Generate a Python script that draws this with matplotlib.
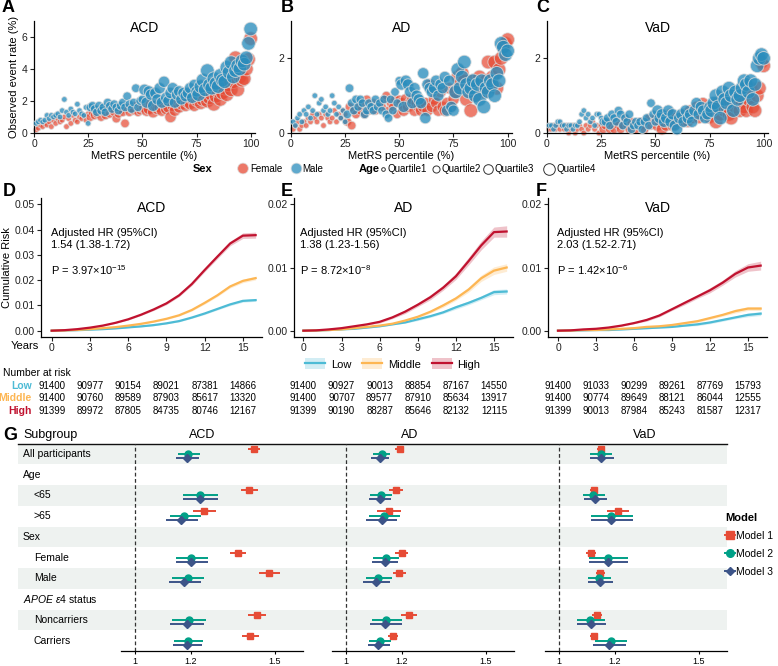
import numpy as np
import matplotlib.pyplot as plt
import matplotlib.transforms as mtransforms
from matplotlib.lines import Line2D
from matplotlib.patches import Patch

plt.rcParams['font.family'] = ['Liberation Sans', 'DejaVu Sans']
plt.rcParams['mathtext.fontset'] = 'custom'
plt.rcParams['mathtext.rm'] = 'Liberation Sans'
plt.rcParams['mathtext.it'] = 'Liberation Sans:italic'
plt.rcParams['mathtext.bf'] = 'Liberation Sans:bold'
plt.rcParams['axes.linewidth'] = 0.9

# ---------------- data: observed event rate by MetRS percentile (1..100)
percentile = list(range(1, 101))

acd_female = [0.2, 0.3, 0.5, 0.4, 0.6, 0.5, 0.7, 0.4, 0.8, 0.6,
              0.9, 0.7, 0.8, 1.0, 0.4, 0.9, 0.6, 1.1, 0.8, 0.7,
              1.0, 0.9, 1.1, 0.8, 1.2, 1.0, 1.3, 1.1, 1.2, 1.4,
              1.0, 1.3, 1.1, 1.5, 1.2, 1.4, 1.3, 0.9, 1.2, 1.4,
              1.3, 0.6, 1.6, 1.3, 1.5, 1.4, 1.7, 1.3, 1.4, 1.5,
              1.6, 1.4, 1.5, 1.8, 1.3, 1.7, 1.5, 1.6, 1.4, 1.8,
              1.5, 1.6, 1.0, 1.7, 1.4, 1.9, 1.6, 1.8, 2.0, 1.7,
              1.9, 1.8, 2.1, 1.7, 2.0, 2.2, 1.9, 2.1, 2.3, 2.0,
              2.2, 2.4, 1.8, 2.3, 2.6, 2.1, 2.5, 2.8, 2.4, 3.0,
              2.7, 3.2, 4.7, 2.7, 3.5, 3.3, 3.4, 4.0, 4.6, 5.9]
acd_male = [0.6, 0.7, 0.8, 0.7, 0.8, 1.1, 0.9, 1.1, 1.0, 1.1,
            1.2, 1.0, 1.4, 2.1, 1.3, 1.1, 1.5, 1.3, 1.2, 1.8,
            1.4, 1.2, 1.1, 1.6, 0.6, 1.6, 1.7, 1.5, 1.3, 1.7,
            1.4, 1.6, 1.3, 1.9, 1.7, 1.5, 1.8, 1.6, 1.4, 1.7,
            1.9, 1.6, 2.3, 1.8, 1.5, 1.9, 2.8, 1.6, 2.0, 2.1,
            2.7, 1.9, 2.6, 2.4, 1.7, 2.5, 2.1, 2.8, 1.9, 3.2,
            2.2, 2.0, 2.5, 2.8, 1.9, 2.4, 2.6, 2.1, 2.5, 2.3,
            2.5, 2.8, 2.2, 3.0, 2.6, 2.4, 2.9, 3.3, 2.7, 3.9,
            3.0, 2.8, 3.4, 3.1, 2.9, 3.6, 3.3, 3.2, 4.1, 3.8,
            4.4, 3.5, 3.9, 4.2, 4.0, 4.5, 4.3, 4.7, 5.6, 6.5]
ad_female = [0.1, 0.2, 0.3, 0.1, 0.2, 0.3, 0.2, 0.4, 0.3, 0.5,
             0.4, 0.3, 0.5, 0.4, 0.2, 0.5, 0.4, 0.3, 0.4, 0.6,
             0.3, 0.5, 0.4, 0.6, 0.5, 0.3, 0.7, 0.2, 0.6, 0.5,
             0.7, 0.6, 0.8, 0.5, 0.9, 0.6, 0.7, 0.8, 0.6, 0.7,
             0.8, 0.7, 0.9, 1.0, 0.6, 0.8, 0.7, 0.9, 0.5, 0.9,
             0.8, 0.6, 0.9, 0.7, 0.8, 0.9, 0.6, 0.8, 0.7, 0.6,
             0.7, 0.8, 0.6, 1.3, 0.7, 0.9, 0.8, 0.6, 1.1, 0.7,
             0.6, 0.8, 1.2, 0.7, 0.9, 1.1, 1.5, 1.3, 1.6, 1.4,
             0.9, 1.2, 0.6, 1.4, 1.0, 1.3, 1.5, 1.2, 1.1, 1.4,
             1.9, 1.3, 1.5, 1.9, 1.2, 1.7, 2.0, 2.3, 2.4, 2.5]
ad_male = [0.3, 0.2, 0.4, 0.5, 0.3, 0.6, 0.5, 0.7, 0.4, 0.6,
           1.0, 0.5, 0.8, 0.9, 0.6, 0.7, 0.5, 0.6, 1.0, 0.8,
           0.5, 0.7, 0.4, 0.6, 0.3, 0.5, 1.2, 0.8, 0.6, 0.9,
           0.7, 0.9, 0.8, 0.5, 0.6, 0.8, 0.7, 0.6, 0.9, 0.7,
           0.8, 0.6, 0.9, 0.5, 0.4, 0.9, 0.6, 1.1, 0.8, 1.4,
           1.3, 0.7, 1.4, 1.3, 1.1, 0.8, 1.2, 1.0, 0.9, 0.8,
           1.6, 0.4, 1.3, 1.2, 1.1, 1.2, 1.4, 1.0, 1.3, 1.2,
           1.5, 0.6, 1.4, 0.7, 0.6, 1.1, 1.7, 1.2, 1.5, 1.9,
           1.3, 1.1, 1.2, 1.4, 1.0, 1.3, 0.9, 1.4, 0.7, 1.2,
           1.1, 1.4, 1.3, 1.0, 1.6, 1.4, 2.4, 2.3, 2.1, 2.2]
vad_female = [0.1, 0.1, 0.2, 0.1, 0.2, 0.1, 0.2, 0.1, 0.2, 0.0,
              0.1, 0.2, 0.0, 0.1, 0.2, 0.1, 0.0, 0.2, 0.1, 0.2,
              0.3, 0.1, 0.2, 0.0, 0.2, 0.1, 0.2, 0.3, 0.1, 0.2,
              0.1, 0.3, 0.2, 0.1, 0.2, 0.4, 0.2, 0.1, 0.3, 0.2,
              0.1, 0.2, 0.3, 0.2, 0.1, 0.3, 0.4, 0.2, 0.3, 0.4,
              0.2, 0.3, 0.1, 0.4, 0.2, 0.3, 0.5, 0.2, 0.4, 0.3,
              0.4, 0.3, 0.5, 0.4, 0.3, 0.6, 0.4, 0.5, 0.7, 0.4,
              0.6, 0.8, 0.5, 0.6, 0.4, 0.7, 0.6, 0.3, 0.8, 0.5,
              0.9, 0.6, 0.7, 0.5, 0.4, 0.8, 0.7, 0.9, 0.6, 0.8,
              0.7, 0.6, 0.9, 1.2, 0.7, 0.6, 1.0, 1.2, 1.9, 1.8]
vad_male = [0.2, 0.2, 0.1, 0.2, 0.3, 0.3, 0.2, 0.2, 0.1, 0.2,
            0.2, 0.1, 0.2, 0.2, 0.3, 0.5, 0.6, 0.4, 0.5, 0.3,
            0.4, 0.2, 0.5, 0.5, 0.4, 0.3, 0.3, 0.4, 0.2, 0.5,
            0.4, 0.3, 0.6, 0.5, 0.2, 0.4, 0.3, 0.5, 0.1, 0.2,
            0.3, 0.2, 0.3, 0.1, 0.3, 0.4, 0.2, 0.8, 0.5, 0.3,
            0.6, 0.4, 0.5, 0.3, 0.4, 0.6, 0.3, 0.5, 0.2, 0.1,
            0.4, 0.5, 0.3, 0.6, 0.4, 0.5, 0.3, 0.6, 0.8, 0.5,
            0.7, 0.6, 0.4, 0.5, 0.7, 0.6, 0.8, 1.0, 0.7, 0.4,
            1.1, 0.9, 0.8, 1.2, 1.0, 0.6, 1.1, 0.9, 1.0, 1.2,
            1.4, 1.3, 1.1, 1.4, 0.9, 1.3, 1.8, 2.0, 2.1, 2.0]

# ---------------- data: cumulative risk curves (years 0..16)
years = list(range(0, 17))
km_acd_low = [0, 0.0001, 0.0002, 0.0004, 0.0006, 0.0009, 0.0013, 0.0017, 0.0022, 0.0029, 0.0038, 0.0052, 0.0068, 0.0086, 0.0104, 0.0118, 0.0121]
km_acd_mid = [0, 0.0001, 0.0003, 0.0006, 0.0010, 0.0014, 0.0020, 0.0027, 0.0036, 0.0047, 0.0061, 0.0082, 0.0110, 0.0140, 0.0175, 0.0197, 0.0208]
km_acd_high = [0, 0.0002, 0.0006, 0.0012, 0.0020, 0.0031, 0.0045, 0.0063, 0.0084, 0.0108, 0.0140, 0.0185, 0.0240, 0.0293, 0.0345, 0.0376, 0.0378]
km_ad_low = [0, 0.00002, 0.0001, 0.0002, 0.0003, 0.0005, 0.0007, 0.0010, 0.0013, 0.0018, 0.0023, 0.0029, 0.0037, 0.0044, 0.0052, 0.0061, 0.0062]
km_ad_mid = [0, 0.00003, 0.0001, 0.0002, 0.0004, 0.0006, 0.0008, 0.0011, 0.0016, 0.0022, 0.0030, 0.0040, 0.0051, 0.0065, 0.0083, 0.0095, 0.0100]
km_ad_high = [0, 0.00005, 0.0002, 0.0004, 0.0007, 0.0010, 0.0014, 0.0021, 0.0030, 0.0041, 0.0053, 0.0068, 0.0086, 0.0110, 0.0135, 0.0156, 0.0157]
km_vad_low = [0, 0.00002, 0.00005, 0.0001, 0.0001, 0.0002, 0.0003, 0.0004, 0.0005, 0.0006, 0.0008, 0.0010, 0.0013, 0.0017, 0.0021, 0.0025, 0.0027]
km_vad_mid = [0, 0.00002, 0.0001, 0.0001, 0.0002, 0.0003, 0.0004, 0.0006, 0.0007, 0.0009, 0.0012, 0.0015, 0.0020, 0.0025, 0.0031, 0.0035, 0.0035]
km_vad_high = [0, 0.00005, 0.0002, 0.0003, 0.0005, 0.0008, 0.0012, 0.0017, 0.0024, 0.0034, 0.0044, 0.0054, 0.0064, 0.0076, 0.0090, 0.0100, 0.0103]
# half width of the 95% band
ci_acd_low = [0, 0, 0, 0.0001, 0.0001, 0.0001, 0.0001, 0.0002, 0.0002, 0.0002, 0.0003, 0.0003, 0.0004, 0.0004, 0.0005, 0.0005, 0.0005]
ci_acd_mid = [0, 0, 0, 0.0001, 0.0001, 0.0001, 0.0002, 0.0002, 0.0002, 0.0003, 0.0003, 0.0004, 0.0005, 0.0005, 0.0006, 0.0007, 0.0007]
ci_acd_high = [0, 0, 0.0001, 0.0001, 0.0002, 0.0002, 0.0003, 0.0003, 0.0004, 0.0005, 0.0005, 0.0006, 0.0007, 0.0008, 0.0009, 0.0011, 0.0012]
ci_ad_low = [0, 0, 0, 0, 0.0001, 0.0001, 0.0001, 0.0001, 0.0001, 0.0002, 0.0002, 0.0002, 0.0003, 0.0003, 0.0003, 0.0004, 0.0004]
ci_ad_mid = [0, 0, 0, 0, 0.0001, 0.0001, 0.0001, 0.0001, 0.0002, 0.0002, 0.0002, 0.0003, 0.0003, 0.0004, 0.0005, 0.0006, 0.0006]
ci_ad_high = [0, 0, 0, 0.0001, 0.0001, 0.0001, 0.0002, 0.0002, 0.0003, 0.0003, 0.0004, 0.0004, 0.0005, 0.0006, 0.0007, 0.0008, 0.0009]
ci_vad_low = [0, 0, 0, 0, 0, 0.0001, 0.0001, 0.0001, 0.0001, 0.0001, 0.0001, 0.0002, 0.0002, 0.0002, 0.0002, 0.0003, 0.0003]
ci_vad_mid = [0, 0, 0, 0, 0, 0.0001, 0.0001, 0.0001, 0.0001, 0.0001, 0.0002, 0.0002, 0.0002, 0.0002, 0.0003, 0.0003, 0.0003]
ci_vad_high = [0, 0, 0, 0, 0.0001, 0.0001, 0.0001, 0.0002, 0.0002, 0.0002, 0.0003, 0.0003, 0.0004, 0.0004, 0.0005, 0.0006, 0.0007]

hr_text = ['1.54 (1.38-1.72)', '1.38 (1.23-1.56)', '2.03 (1.52-2.71)']
p_text = [r'P = 3.97×10$^{-15}$', r'P = 8.72×10$^{-8}$', r'P = 1.42×10$^{-6}$']

risk_years = [0, 3, 6, 9, 12, 15]
risk_groups = ['Low', 'Middle', 'High']
risk_acd = [[91400, 90977, 90154, 89021, 87381, 14866],
            [91400, 90760, 89589, 87903, 85617, 13320],
            [91399, 89972, 87805, 84735, 80746, 12167]]
risk_ad = [[91400, 90927, 90013, 88854, 87167, 14550],
           [91400, 90707, 89577, 87910, 85634, 13917],
           [91399, 90190, 88287, 85646, 82132, 12115]]
risk_vad = [[91400, 91033, 90299, 89261, 87769, 15793],
            [91400, 90774, 89649, 88121, 86044, 12555],
            [91399, 90013, 87984, 85243, 81587, 12317]]

# ---------------- data: forest plot (HR, lower, upper)
subgroups = ['All participants', 'Age', '<65', '>65', 'Sex', 'Female', 'Male',
             r'$\mathit{APOE\ \varepsilon}$4 status', 'Noncarriers', 'Carriers']
is_header = [False, True, False, False, True, False, False, True, False, False]
acd_m1 = [(1.424, 1.404, 1.446), (1.406, 1.377, 1.439), (1.246, 1.208, 1.288), (1.367, 1.339, 1.396),
          (1.479, 1.442, 1.519), (1.434, 1.404, 1.467), (1.412, 1.382, 1.442)]
acd_m2 = [(1.190, 1.152, 1.233), (1.232, 1.172, 1.295), (1.176, 1.124, 1.236), (1.201, 1.148, 1.261),
          (1.188, 1.132, 1.246), (1.192, 1.133, 1.253), (1.190, 1.138, 1.244)]
acd_m3 = [(1.185, 1.145, 1.227), (1.232, 1.172, 1.295), (1.165, 1.110, 1.224), (1.201, 1.148, 1.261),
          (1.176, 1.121, 1.236), (1.184, 1.124, 1.245), (1.185, 1.136, 1.241)]
ad_m1 = [(1.192, 1.176, 1.207), (1.179, 1.154, 1.205), (1.153, 1.109, 1.198), (1.199, 1.175, 1.222),
         (1.189, 1.167, 1.213), (1.224, 1.195, 1.254), (1.168, 1.149, 1.187)]
ad_m2 = [(1.127, 1.097, 1.158), (1.124, 1.085, 1.164), (1.136, 1.083, 1.192), (1.142, 1.098, 1.188),
         (1.115, 1.071, 1.163), (1.144, 1.093, 1.199), (1.122, 1.083, 1.162)]
ad_m3 = [(1.121, 1.089, 1.153), (1.122, 1.083, 1.162), (1.127, 1.071, 1.183), (1.140, 1.093, 1.186),
         (1.108, 1.061, 1.156), (1.141, 1.086, 1.199), (1.116, 1.077, 1.157)]
vad_m1 = [(1.150, 1.135, 1.165), (1.126, 1.111, 1.141), (1.209, 1.171, 1.249), (1.113, 1.096, 1.132),
          (1.147, 1.132, 1.164), (1.135, 1.117, 1.153), (1.126, 1.111, 1.141)]
vad_m2 = [(1.150, 1.110, 1.190), (1.123, 1.084, 1.165), (1.187, 1.116, 1.263), (1.174, 1.108, 1.245),
          (1.144, 1.104, 1.186), (1.111, 1.064, 1.165), (1.184, 1.129, 1.244)]
vad_m3 = [(1.150, 1.110, 1.195), (1.128, 1.090, 1.171), (1.187, 1.115, 1.263), (1.174, 1.108, 1.245),
          (1.147, 1.105, 1.192), (1.114, 1.066, 1.168), (1.180, 1.122, 1.240)]
models = ['Model 1', 'Model 2', 'Model 3']

# ---------------- styling
W, H = 778, 666
FEMALE, MALE = '#E64B35', '#2A8DBD'
C_LOW, C_MID, C_HIGH = '#4DBBD5', '#FDB653', '#C0122F'
M_COL = ['#E64B35', '#00A087', '#3C5488']
M_MARK = ['s', 'o', 'D']
M_SIZE = [5, 5, 3.6]
M_OFF = [0.24, 0.0, -0.19]
QSIZE = [16, 38, 66, 96]
BAND = '#EEF2F0'

fig = plt.figure(figsize=(W / 100, H / 100), dpi=100)


def px_axes(x0, y0, x1, y1, **kw):
    return fig.add_axes([x0 / W, 1 - y1 / H, (x1 - x0) / W, (y1 - y0) / H], **kw)


def ftext(x, y, s, **kw):
    return fig.text(x / W, 1 - y / H, s, **kw)


def clean(ax):
    ax.spines['top'].set_visible(False)
    ax.spines['right'].set_visible(False)
    ax.tick_params(length=3, width=0.8, pad=1.5, labelsize=7.5, colors='#222222')


# ---------------- A-C scatter
quartile = [min((p - 1) // 25, 3) for p in percentile]
sizes = [QSIZE[q] for q in quartile]
scatter_specs = [
    ('A', 'ACD', acd_female, acd_male, (34, 21, 255, 133), 7.0, [0, 2, 4, 6], 2),
    ('B', 'AD', ad_female, ad_male, (291, 21, 512, 133), 3.0, [0, 2], 281),
    ('C', 'VaD', vad_female, vad_male, (547, 21, 768, 133), 3.0, [0, 2], 536),
]
for letter, title, fem, mal, box, ymax, yt, lx in scatter_specs:
    ax = px_axes(*box)
    ax.scatter(percentile, fem, s=sizes, color=FEMALE, alpha=0.72, edgecolors='#dddddd',
               linewidths=0.7, clip_on=False, zorder=2)
    ax.scatter(percentile, mal, s=sizes, color=MALE, alpha=0.78, edgecolors='#dddddd',
               linewidths=0.7, clip_on=False, zorder=3)
    ax.set_xlim(0, 102)
    ax.set_ylim(0, ymax)
    ax.set_xticks([0, 25, 50, 75, 100])
    ax.set_yticks(yt)
    clean(ax)
    ax.set_xlabel('MetRS percentile (%)', fontsize=8, labelpad=1)
    ax.text(0.5, 0.94, title, transform=ax.transAxes, ha='center', va='center', fontsize=10)
    if letter == 'A':
        ax.set_ylabel('Observed event rate (%)', fontsize=8, labelpad=2)
    ftext(lx, 8, letter, fontsize=13, fontweight='bold', va='center')

# legend row for A-C
ly = 168.5
ftext(193, ly, 'Sex', fontsize=8, fontweight='bold', va='center')
leg_ax = px_axes(0, 160, W, 177)
leg_ax.set_xlim(0, W)
leg_ax.set_ylim(177, 160)
leg_ax.axis('off')
leg_ax.scatter([243, 296.5], [ly, ly], s=60, color=[FEMALE, MALE], alpha=0.75,
               edgecolors='#dddddd', linewidths=0.7)
ftext(250, ly, 'Female', fontsize=7, va='center')
ftext(302, ly, 'Male', fontsize=7, va='center')
ftext(359, ly, 'Age', fontsize=8, fontweight='bold', va='center')
for qx, qs, qlab in zip([383.5, 436, 488, 549], [7, 26, 48, 70],
                        ['Quartile1', 'Quartile2', 'Quartile3', 'Quartile4']):
    leg_ax.scatter([qx], [ly], s=qs, facecolor='white', edgecolors='#333333', linewidths=0.7)
    ftext(qx + np.sqrt(qs) * 0.7 + 2, ly, qlab, fontsize=7, va='center')

# ---------------- D-F cumulative risk
km_specs = [
    ('D', 'ACD', (km_acd_low, km_acd_mid, km_acd_high), (ci_acd_low, ci_acd_mid, ci_acd_high),
     (41, 198, 262, 337), (-0.84, 16.5), (-0.0025, 0.0525), [0, 0.01, 0.02, 0.03, 0.04, 0.05], 3, 51, risk_acd),
    ('E', 'AD', (km_ad_low, km_ad_mid, km_ad_high), (ci_ad_low, ci_ad_mid, ci_ad_high),
     (294, 198, 513, 337), (-0.74, 16.5), (-0.001, 0.021), [0, 0.01, 0.02], 281, 300, risk_ad),
    ('F', 'VaD', (km_vad_low, km_vad_mid, km_vad_high), (ci_vad_low, ci_vad_mid, ci_vad_high),
     (548, 198, 767, 337), (-0.79, 16.5), (-0.001, 0.021), [0, 0.01, 0.02], 536, 557, risk_vad),
]
row_y = [386, 398.3, 410.7]
for i, (letter, title, curves, cis, box, xl, yl, yt, lx, tx, risk) in enumerate(km_specs):
    ax = px_axes(*box)
    for cur, ci, col in zip(curves, cis, [C_LOW, C_MID, C_HIGH]):
        cur = np.array(cur)
        ci = np.array(ci)
        ax.fill_between(years, cur - ci, cur + ci, color=col, alpha=0.25, lw=0)
        ax.plot(years, cur, color=col, lw=1.6)
    ax.set_xlim(*xl)
    ax.set_ylim(*yl)
    ax.set_xticks([0, 3, 6, 9, 12, 15])
    ax.set_yticks(yt)
    ax.set_yticklabels(['%.2f' % v for v in yt])
    clean(ax)
    ax.tick_params(labelsize=7.5)
    ax.text(0.5, 1 - (208 - box[1]) / (box[3] - box[1]), title, transform=ax.transAxes,
            ha='center', va='center', fontsize=10)
    ftext(tx, 232.5, 'Adjusted HR (95%CI)', fontsize=8, va='center')
    ftext(tx, 244.5, hr_text[i], fontsize=8, va='center')
    ftext(tx, 270, p_text[i], fontsize=8, va='center')
    ftext(lx, 191, letter, fontsize=13, fontweight='bold', va='center')
    if letter == 'D':
        ax.set_ylabel('Cumulative Risk', fontsize=8, labelpad=2)
        ftext(25, 346, 'Years', fontsize=8, ha='center', va='center')
    trans = mtransforms.blended_transform_factory(ax.transData, fig.transFigure)
    for r, ry in enumerate(row_y):
        for yr, n in zip(risk_years, risk[r]):
            ax.text(yr, 1 - ry / H, str(n), transform=trans, ha='center', va='center',
                    fontsize=7, clip_on=False)

km_handles = [(Patch(facecolor=c, alpha=0.25, lw=0), Line2D([], [], color=c, lw=1.6))
              for c in [C_LOW, C_MID, C_HIGH]]
fig.legend(km_handles, risk_groups, loc='center', bbox_to_anchor=(393 / W, 1 - 364 / H), ncol=3,
           frameon=False, fontsize=8, handlelength=1.8, handleheight=1.1, columnspacing=1.0,
           handletextpad=0.5)

ftext(3, 373, 'Number at risk', fontsize=7.5, va='center')
for g, c, ry in zip(risk_groups, [C_LOW, C_MID, C_HIGH], row_y):
    ftext(32, ry, g, fontsize=7.5, color=c, fontweight='bold', ha='right', va='center')

# ---------------- G forest
fy0, fy1 = 443.5, 651
nrow = len(subgroups)
ypos = [nrow - 1 - k for k in range(nrow)]
bg = px_axes(18, fy0, 727, fy1)
bg.set_xlim(0, 1)
bg.set_ylim(-0.5, nrow - 0.5)
bg.axis('off')
for k, yy in enumerate(ypos):
    if k % 2 == 0:
        bg.axhspan(yy - 0.5, yy + 0.5, color=BAND, lw=0, zorder=0)
bg.axhline(nrow - 0.5, color='#111111', lw=1.0, clip_on=False)
lab_trans = mtransforms.blended_transform_factory(fig.transFigure, bg.transData)
for lab, hd, yy in zip(subgroups, is_header, ypos):
    indent = 23 if (hd or lab == 'All participants') else 34
    bg.text(indent / W, yy, lab, transform=lab_trans, fontsize=7.5, va='center')

ftext(3, 435, 'G', fontsize=13, fontweight='bold', va='center')
ftext(23, 435, 'Subgroup', fontsize=9, va='center')

data_rows = [yy for yy, hd in zip(ypos, is_header) if not hd]
forest_specs = [('ACD', (acd_m1, acd_m2, acd_m3), 121, 303, 202),
                ('AD', (ad_m1, ad_m2, ad_m3), 332, 514, 409.5),
                ('VaD', (vad_m1, vad_m2, vad_m3), 545, 727, 645)]
for title, mods, x0, x1, tx in forest_specs:
    ax = px_axes(x0, fy0, x1, fy1)
    ax.patch.set_visible(False)
    ax.set_xlim(0.95, 1.6)
    ax.set_ylim(-0.5, nrow - 0.5)
    ax.axvline(1, color='#333333', lw=0.9, ls=(0, (3, 2)), zorder=1)
    for m, vals in enumerate(mods):
        hr = [v[0] for v in vals]
        lo = [v[1] for v in vals]
        hi = [v[2] for v in vals]
        yy = [r + M_OFF[m] for r in data_rows]
        ax.hlines(yy, lo, hi, color=M_COL[m], lw=1.4, zorder=2 + m)
        ax.plot(hr, yy, ls='none', marker=M_MARK[m], ms=M_SIZE[m], color=M_COL[m], zorder=2 + m)
    for s in ['top', 'right', 'left']:
        ax.spines[s].set_visible(False)
    ax.set_yticks([])
    ax.set_xticks([1, 1.2, 1.5])
    ax.set_xticklabels(['1', '1.2', '1.5'])
    ax.tick_params(length=2.5, width=0.8, pad=1.5, labelsize=6.5)
    ftext(tx, 435, title, fontsize=9, ha='center', va='center')

m_handles = [Line2D([], [], color=c, marker=mk, ms=ms + 0.5, lw=1.4)
             for c, mk, ms in zip(M_COL, M_MARK, M_SIZE)]
fig.legend(m_handles, models, title='Model', loc='upper left', bbox_to_anchor=(722 / W, 1 - 510 / H),
           frameon=False, fontsize=7.5, title_fontproperties={'weight': 'bold', 'size': 8},
           handlelength=0.9, handletextpad=0.15, labelspacing=0.75, alignment='left',
           borderpad=0.1, borderaxespad=0.2)

fig.savefig('out.png', dpi=100)
